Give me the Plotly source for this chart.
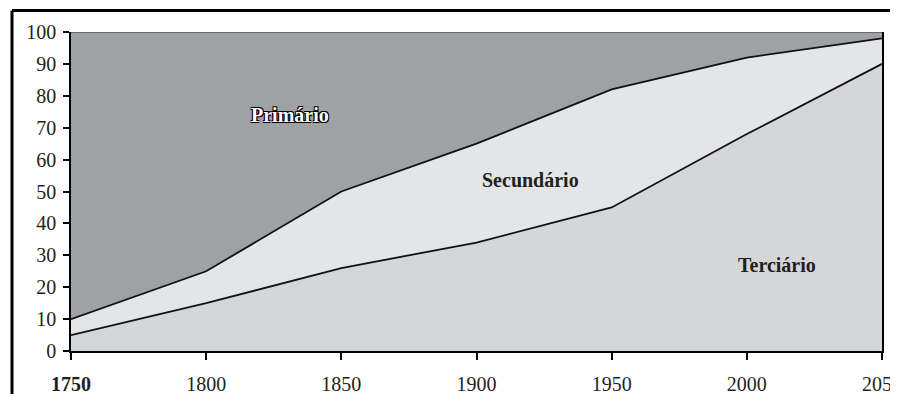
import plotly.graph_objects as go

years = [1750, 1800, 1850, 1900, 1950, 2000, 2050]
terciario = [5, 15, 26, 34, 45, 68, 90]
secundario = [5, 10, 24, 31, 37, 24, 8]
primario = [90, 75, 50, 35, 18, 8, 2]

x_tick_vals = [1750, 1800, 1850, 1900, 1950, 2000, 2050]
x_tick_text = ["<b>1750</b>", "1800", "1850", "1900", "1950", "2000", "2050"]
y_tick_vals = [0, 10, 20, 30, 40, 50, 60, 70, 80, 90, 100]

labels = ["Primário", "Secundário", "Terciário"]
label_x = [1831, 1920, 2011]
label_y = [74, 53.5, 27]

FONT = "Liberation Serif"

fig = go.Figure()
fig.add_trace(go.Scatter(x=years, y=terciario, stackgroup="s", mode="lines",
                         line=dict(color="#111111", width=1.8),
                         fillcolor="#d5d6d8", hoverinfo="skip"))
fig.add_trace(go.Scatter(x=years, y=secundario, stackgroup="s", mode="lines",
                         line=dict(color="#111111", width=1.8),
                         fillcolor="#e4e5e7", hoverinfo="skip"))
fig.add_trace(go.Scatter(x=years, y=primario, stackgroup="s", mode="lines",
                         line=dict(color="#333333", width=1),
                         fillcolor="#a0a1a5", hoverinfo="skip"))

outline = "-1px -1px 0 #000, 1px -1px 0 #000, -1px 1px 0 #000, 1px 1px 0 #000"
fig.add_annotation(x=label_x[0], y=label_y[0], text="<b>" + labels[0] + "</b>",
                   showarrow=False,
                   font=dict(family=FONT, size=20, color="#ffffff", shadow=outline))
fig.add_annotation(x=label_x[1], y=label_y[1], text="<b>" + labels[1] + "</b>",
                   showarrow=False, font=dict(family=FONT, size=20, color="#231f20"))
fig.add_annotation(x=label_x[2], y=label_y[2], text="<b>" + labels[2] + "</b>",
                   showarrow=False, font=dict(family=FONT, size=20, color="#231f20"))

# outer frame lines (top and left), in paper coordinates
PW, PH = 811.0, 319.0
top_y = 1 + (32 - 10.5) / PH
left_x = -(71 - 12) / PW
fig.add_shape(type="line", xref="paper", yref="paper",
              x0=left_x, x1=1.03, y0=top_y, y1=top_y,
              line=dict(color="#000000", width=3))
fig.add_shape(type="line", xref="paper", yref="paper",
              x0=left_x, x1=left_x, y0=top_y, y1=-0.2,
              line=dict(color="#000000", width=3))

fig.update_layout(
    width=882, height=386,
    margin=dict(l=63, r=8, t=24, b=43, autoexpand=False),
    paper_bgcolor="#ffffff", plot_bgcolor="#ffffff",
    showlegend=False,
    font=dict(family=FONT, color="#231f20"),
)
fig.update_xaxes(range=[1750, 2050], tickvals=x_tick_vals, ticktext=x_tick_text,
                 showgrid=False, zeroline=False, showline=True,
                 linecolor="#000000", linewidth=2, mirror=False, automargin=False,
                 ticks="outside", ticklen=7, tickcolor="#000000", tickwidth=1.5,
                 tickfont=dict(family=FONT, size=20, color="#231f20"),
                 ticklabelstandoff=7, ticklabeloverflow="allow")
fig.update_yaxes(range=[0, 100], tickvals=y_tick_vals,
                 showgrid=False, zeroline=False, showline=True,
                 linecolor="#000000", linewidth=1.5, mirror=True, automargin=False,
                 ticks="outside", ticklen=6, tickcolor="#000000", tickwidth=1.5,
                 tickfont=dict(family=FONT, size=20, color="#231f20"),
                 ticklabelstandoff=3)

fig.write_html("out.html")
